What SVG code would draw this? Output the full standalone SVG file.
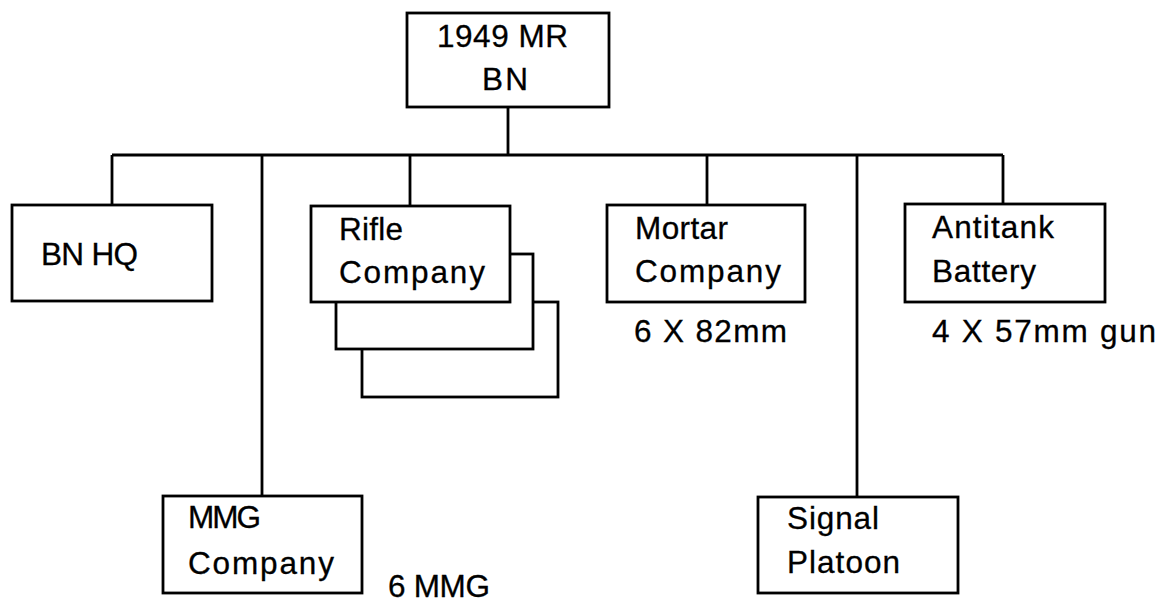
<svg xmlns="http://www.w3.org/2000/svg" width="1157" height="606" viewBox="0 0 1157 606">
<style>
.box{fill:#fff;stroke:#000;stroke-width:2.8}
.ln{fill:none;stroke:#000;stroke-width:2.8}
text{font-family:"Liberation Sans",Arial,sans-serif;font-size:31.5px;fill:#000;stroke:#000;stroke-width:0.3}
</style>
<rect width="1157" height="606" fill="#fff"/>
<g id="connectors">
<path class="ln" d="M508 107V155M112 155H1003M112 155V205M262 155V496M410 155V206M707 155V205M857 155V497M1003 155V204"/>
</g>
<g id="n-bn">
<rect class="box" x="407" y="13" width="202" height="94"/>
<text x="437" y="47" textLength="131" lengthAdjust="spacing">1949 MR</text>
<text x="482" y="90" textLength="46" lengthAdjust="spacing">BN</text>
</g>
<g id="n-hq">
<rect class="box" x="12" y="205" width="200" height="96"/>
<text x="41" y="265" textLength="97" lengthAdjust="spacing">BN HQ</text>
</g>
<g id="n-rifle">
<rect class="box" x="362" y="302" width="196" height="95"/>
<rect class="box" x="336" y="254" width="197" height="95"/>
<rect class="box" x="311" y="206" width="199" height="96"/>
<text x="339" y="240" textLength="64" lengthAdjust="spacing">Rifle</text>
<text x="339" y="283" textLength="146" lengthAdjust="spacing">Company</text>
</g>
<g id="n-mortar">
<rect class="box" x="607" y="205" width="198" height="97"/>
<text x="635" y="239" textLength="93" lengthAdjust="spacing">Mortar</text>
<text x="635" y="282" textLength="146" lengthAdjust="spacing">Company</text>
<text x="634" y="342" textLength="153" lengthAdjust="spacing">6 X 82mm</text>
</g>
<g id="n-at">
<rect class="box" x="905" y="204" width="200" height="98"/>
<text x="932" y="238" textLength="122" lengthAdjust="spacing">Antitank</text>
<text x="932" y="282" textLength="104" lengthAdjust="spacing">Battery</text>
<text x="932" y="342" textLength="224" lengthAdjust="spacing">4 X 57mm gun</text>
</g>
<g id="n-mmg">
<rect class="box" x="163" y="496" width="199" height="97"/>
<text x="188" y="528" textLength="73" lengthAdjust="spacing">MMG</text>
<text x="188" y="574" textLength="146" lengthAdjust="spacing">Company</text>
<text x="388" y="597" textLength="102" lengthAdjust="spacing">6 MMG</text>
</g>
<g id="n-sig">
<rect class="box" x="758" y="497" width="200" height="96"/>
<text x="787" y="529" textLength="92" lengthAdjust="spacing">Signal</text>
<text x="787" y="573" textLength="113" lengthAdjust="spacing">Platoon</text>
</g>
</svg>
